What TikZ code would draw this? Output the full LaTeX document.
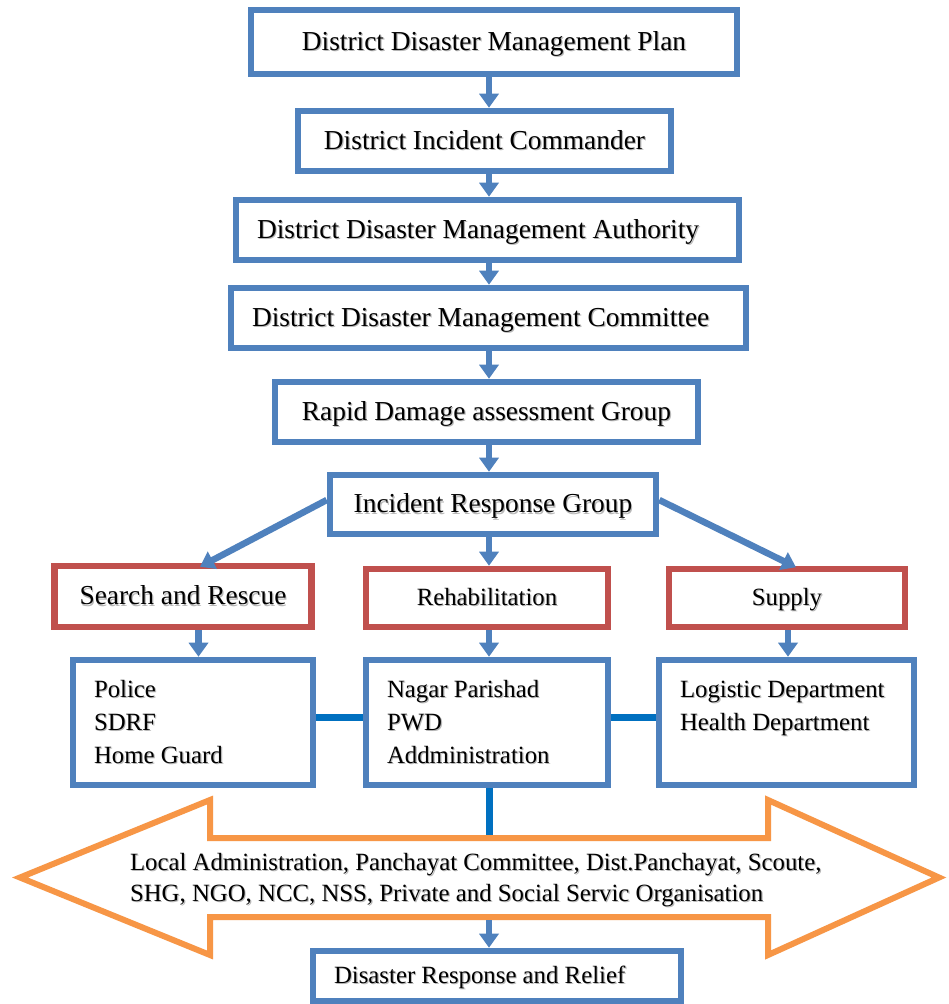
\documentclass[tikz,border=0pt]{standalone}
\usepackage{fontspec}
\setmainfont{Liberation Serif}
\usetikzlibrary{arrows.meta,calc}
\newlength\pu \setlength\pu{0.75pt}
\definecolor{bl}{RGB}{79,129,189}
\definecolor{rd}{RGB}{192,80,77}
\definecolor{og}{RGB}{247,150,70}
\definecolor{db}{RGB}{0,112,192}
\newcommand\shd[1]{\leavevmode\rlap{\kern0.9pt\raisebox{-0.9pt}{\textcolor{black!28}{#1}}}#1}
\tikzset{
  box/.style={draw=bl, line width=4.9pt, fill=white, inner sep=0pt, align=center},
  rbox/.style={box, draw=rd},
  lbox/.style={box, align=flush left, inner xsep=15.75pt},
  bigf/.style={font=\fontsize{20.55}{25}\selectfont},
  smf/.style={font=\fontsize{18.6}{24.75}\selectfont},
  onebig/.style={text height=13.6pt, text depth=1pt},
  onesm/.style={text height=12.3pt, text depth=0.9pt},
  arr/.style={draw=bl, line width=4.9pt, -{Triangle[width=14.25pt,length=10.5pt]}},
  link/.style={draw=db, line width=5.25pt},
  band/.style={draw=og, line width=4.5pt, line join=miter},
}
\begin{document}
\begin{tikzpicture}[x=0.75pt,y=-0.75pt]
\fill[white] (0,0) rectangle (949,1004);
\useasboundingbox (0,0) rectangle (949,1004);

% double arrow band
\draw[band] (20,877.5) -- (210,800) -- (210,838) -- (768,838) -- (768,800)
  -- (939,877.5) -- (768,955) -- (768,917) -- (210,917) -- (210,955) -- cycle;
\coordinate (shafttop) at (489,835);
\coordinate (shaftbot) at (489,920);
\node[font=\fontsize{18.6}{23.25}\selectfont, align=flush left, text width=570pt, inner sep=0pt] (ngo) at (510,880.5)
  {\shd{Local Administration, Panchayat Committee, Dist.Panchayat, Scoute,}\\
   \shd{SHG, NGO, NCC, NSS, Private and Social Servic Organisation}};

% top chain
\node[box,bigf,onebig,minimum width=486\pu,minimum height=64\pu] (b1) at (494,42) {\shd{District Disaster Management Plan}};
\node[box,bigf,onebig,minimum width=373\pu,minimum height=60\pu] (b2) at (484.5,141) {\shd{District Incident Commander}};
\node[lbox,bigf,onebig,minimum width=503\pu,minimum height=60\pu,text width=461\pu] (b3) at (487.5,230) {\shd{District Disaster Management Authority}};
\node[lbox,bigf,onebig,minimum width=515\pu,minimum height=60\pu,text width=473\pu] (b4) at (488.5,318) {\shd{District Disaster Management Committee}};
\node[box,bigf,onebig,minimum width=423\pu,minimum height=60\pu] (b5) at (486.5,412) {\shd{Rapid Damage assessment Group}};
\node[box,bigf,onebig,minimum width=326\pu,minimum height=59\pu] (irg) at (493,504.5) {\shd{Incident Response Group}};

% red boxes
\node[rbox,bigf,onebig,minimum width=257\pu,minimum height=61\pu] (sr) at (183,596.5) {\shd{Search and Rescue}};
\node[rbox,smf,onesm,minimum width=242\pu,minimum height=58\pu] (rh) at (487,598) {\shd{Rehabilitation}};
\node[rbox,smf,onesm,minimum width=236\pu,minimum height=58\pu] (su) at (787,598) {\shd{Supply}};

% blue boxes
\node[lbox,smf,minimum width=240\pu,minimum height=125\pu,text width=198\pu] (A) at (193,722.5)
  {\shd{Police}\\\shd{SDRF}\\\shd{Home Guard}};
\node[lbox,smf,minimum width=242\pu,minimum height=125\pu,text width=200\pu] (B) at (487,722.5)
  {\shd{Nagar Parishad}\\\shd{PWD}\\\shd{Addministration}};
\node[lbox,smf,minimum width=255\pu,minimum height=125\pu,text width=213\pu] (C) at (786.5,722.5)
  {\shd{Logistic Department}\\\shd{Health Department}\\\mbox{}};

% final box
\node[lbox,smf,onesm,minimum width=368\pu,minimum height=50\pu,text width=326\pu] (fin) at (497,976)
  {\shd{Disaster Response and Relief}};

% connectors
\coordinate (ax) at (489,0);
\coordinate (axl) at (198.5,0);
\coordinate (axr) at (788,0);
\draw[arr] (b1.south -| ax) -- (b2.north -| ax);
\draw[arr] (b2.south -| ax) -- (b3.north -| ax);
\draw[arr] (b3.south -| ax) -- (b4.north -| ax);
\draw[arr] (b4.south -| ax) -- (b5.north -| ax);
\draw[arr] (b5.south -| ax) -- (irg.north -| ax);
\draw[arr] ($(irg.west)+(0,-4.5)$) -- ($(sr.north)+(17,4)$);
\draw[arr] (irg.south -| ax) -- (rh.north -| ax);
\draw[arr] ($(irg.east)+(0,-4.5)$) -- ($(su.north)+(9,1.5)$);
\draw[arr] (sr.south -| axl) -- (A.north -| axl);
\draw[arr] (rh.south -| ax) -- (B.north -| ax);
\draw[arr] (su.south -| axr) -- (C.north -| axr);
\draw[link] ($(A.east)+(0,-5)$) -- ($(B.west)+(0,-5)$);
\draw[link] ($(B.east)+(0,-5)$) -- ($(C.west)+(0,-5)$);
\draw[link] (B.south -| ax) -- (shafttop);
\draw[arr] (shaftbot) -- (fin.north -| ax);
\end{tikzpicture}
\end{document}
